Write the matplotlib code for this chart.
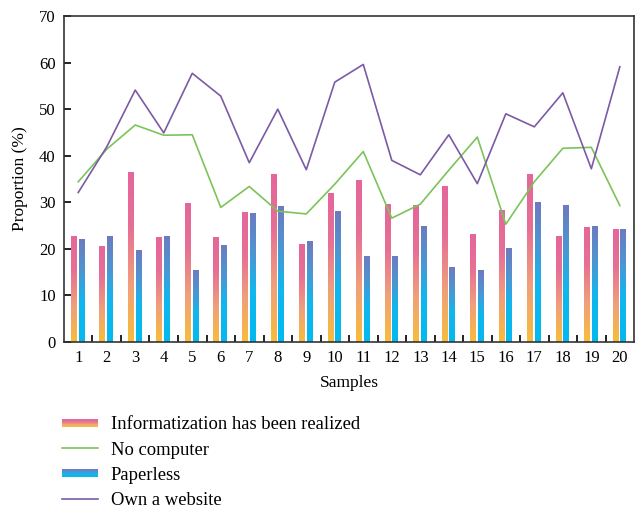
import numpy as np
import matplotlib
matplotlib.use("Agg")
import matplotlib.pyplot as plt
from matplotlib.colors import LinearSegmentedColormap
from matplotlib.legend_handler import HandlerBase
from matplotlib.lines import Line2D
from matplotlib.patches import Rectangle

plt.rcParams["font.family"] = ["Liberation Serif", "DejaVu Serif"]

samples = list(range(1, 21))
informatization = [22.8, 20.7, 36.5, 22.5, 29.8, 22.5, 27.9, 36.0, 21.0, 32.1,
                   34.7, 29.6, 29.4, 33.4, 23.2, 28.3, 36.1, 22.7, 24.8, 24.2]
paperless = [22.1, 22.7, 19.7, 22.8, 15.5, 20.8, 27.7, 29.1, 21.7, 28.1,
             18.5, 18.5, 25.0, 16.1, 15.4, 20.1, 30.0, 29.4, 24.9, 24.3]
no_computer = [34.4, 41.4, 46.6, 44.4, 44.5, 28.9, 33.4, 28.1, 27.5, 33.9,
               40.9, 26.6, 29.6, 36.9, 44.0, 25.3, 34.4, 41.6, 41.8, 29.3]
own_website = [32.1, 41.9, 54.1, 44.9, 57.7, 52.8, 38.5, 50.0, 37.0, 55.8,
               59.6, 39.0, 35.9, 44.5, 34.0, 49.0, 46.2, 53.5, 37.2, 59.1]
labels = ["Informatization has been realized", "No computer", "Paperless", "Own a website"]

# bottom -> top colours of the bar gradients
pink_cmap = LinearSegmentedColormap.from_list("pink", ["#f7bd3a", "#f0a07a", "#e77095", "#e4669b"])
blue_cmap = LinearSegmentedColormap.from_list("blue", [(0, "#00baf0"), (0.4, "#12b6ee"), (0.7, "#4d95d2"), (1, "#6d7bbf")])
green = "#7cc35a"
purple = "#7b5aa6"

fig = plt.figure(figsize=(6.36, 5.13), dpi=100)
ax = fig.add_axes([0.1006, 0.3333, 0.8964, 0.6355])

x = np.array(samples, dtype=float)
width = 0.21
grad = np.linspace(0, 1, 256).reshape(-1, 1)


def gradient_bars(xpos, heights, cmap):
    bars = ax.bar(xpos, heights, width, facecolor="none", edgecolor="none", zorder=2)
    for b in bars:
        x0, w, h = b.get_x(), b.get_width(), b.get_height()
        im = ax.imshow(grad, extent=[x0, x0 + w, 0, h], origin="lower", aspect="auto",
                       cmap=cmap, zorder=2, interpolation="bilinear")
        im.set_clip_path(b)


gradient_bars(x - 0.15, informatization, pink_cmap)
gradient_bars(x + 0.125, paperless, blue_cmap)
ax.plot(x, no_computer, color=green, lw=1.2, zorder=3)
ax.plot(x, own_website, color=purple, lw=1.2, zorder=3)

ax.set_xlim(0.5, 20.5)
ax.set_ylim(0, 70)
ax.set_aspect("auto")
ax.set_xticks(x)
ax.set_xticklabels([str(s) for s in samples], fontsize=12)
ax.set_xticks(np.arange(1.5, 20.5, 1), minor=True)
ax.tick_params(axis="x", which="major", length=0, pad=6)
ax.tick_params(axis="x", which="minor", length=5, direction="in", width=1.2)
ax.set_yticks(range(0, 71, 10))
ax.tick_params(axis="y", length=5, direction="in", width=1.2, labelsize=12, pad=6)
for s in ax.spines.values():
    s.set_linewidth(1.2)
    s.set_color("#333333")
ax.set_xlabel("Samples", fontsize=12.5, labelpad=6)
ax.set_ylabel("Proportion (%)", fontsize=12.5, labelpad=8)


class GradientHandler(HandlerBase):
    def __init__(self, cmap):
        super().__init__()
        self.cmap = cmap

    def create_artists(self, legend, orig_handle, xdescent, ydescent, width, height, fontsize, trans):
        n = 10
        hh = height * 0.6
        y0 = -ydescent + (height - hh) / 2
        arts = []
        for i in range(n):
            c = self.cmap((i + 0.5) / n)
            arts.append(Rectangle((-xdescent, y0 + hh * i / n), width, hh / n + 0.05,
                                  facecolor=c, edgecolor="none", transform=trans))
        return arts


h_pink = Rectangle((0, 0), 1, 1)
h_blue = Rectangle((0, 0), 1, 1)
h_green = Line2D([], [], color=green, lw=1.2)
h_purple = Line2D([], [], color=purple, lw=1.2)
fig.legend([h_pink, h_green, h_blue, h_purple], labels,
           handler_map={h_pink: GradientHandler(pink_cmap), h_blue: GradientHandler(blue_cmap)},
           loc="upper left", bbox_to_anchor=(0.071, 0.221), frameon=False, fontsize=13.4,
           handlelength=1.95, handletextpad=0.68, labelspacing=0.44)

fig.savefig("out.png", dpi=100)
